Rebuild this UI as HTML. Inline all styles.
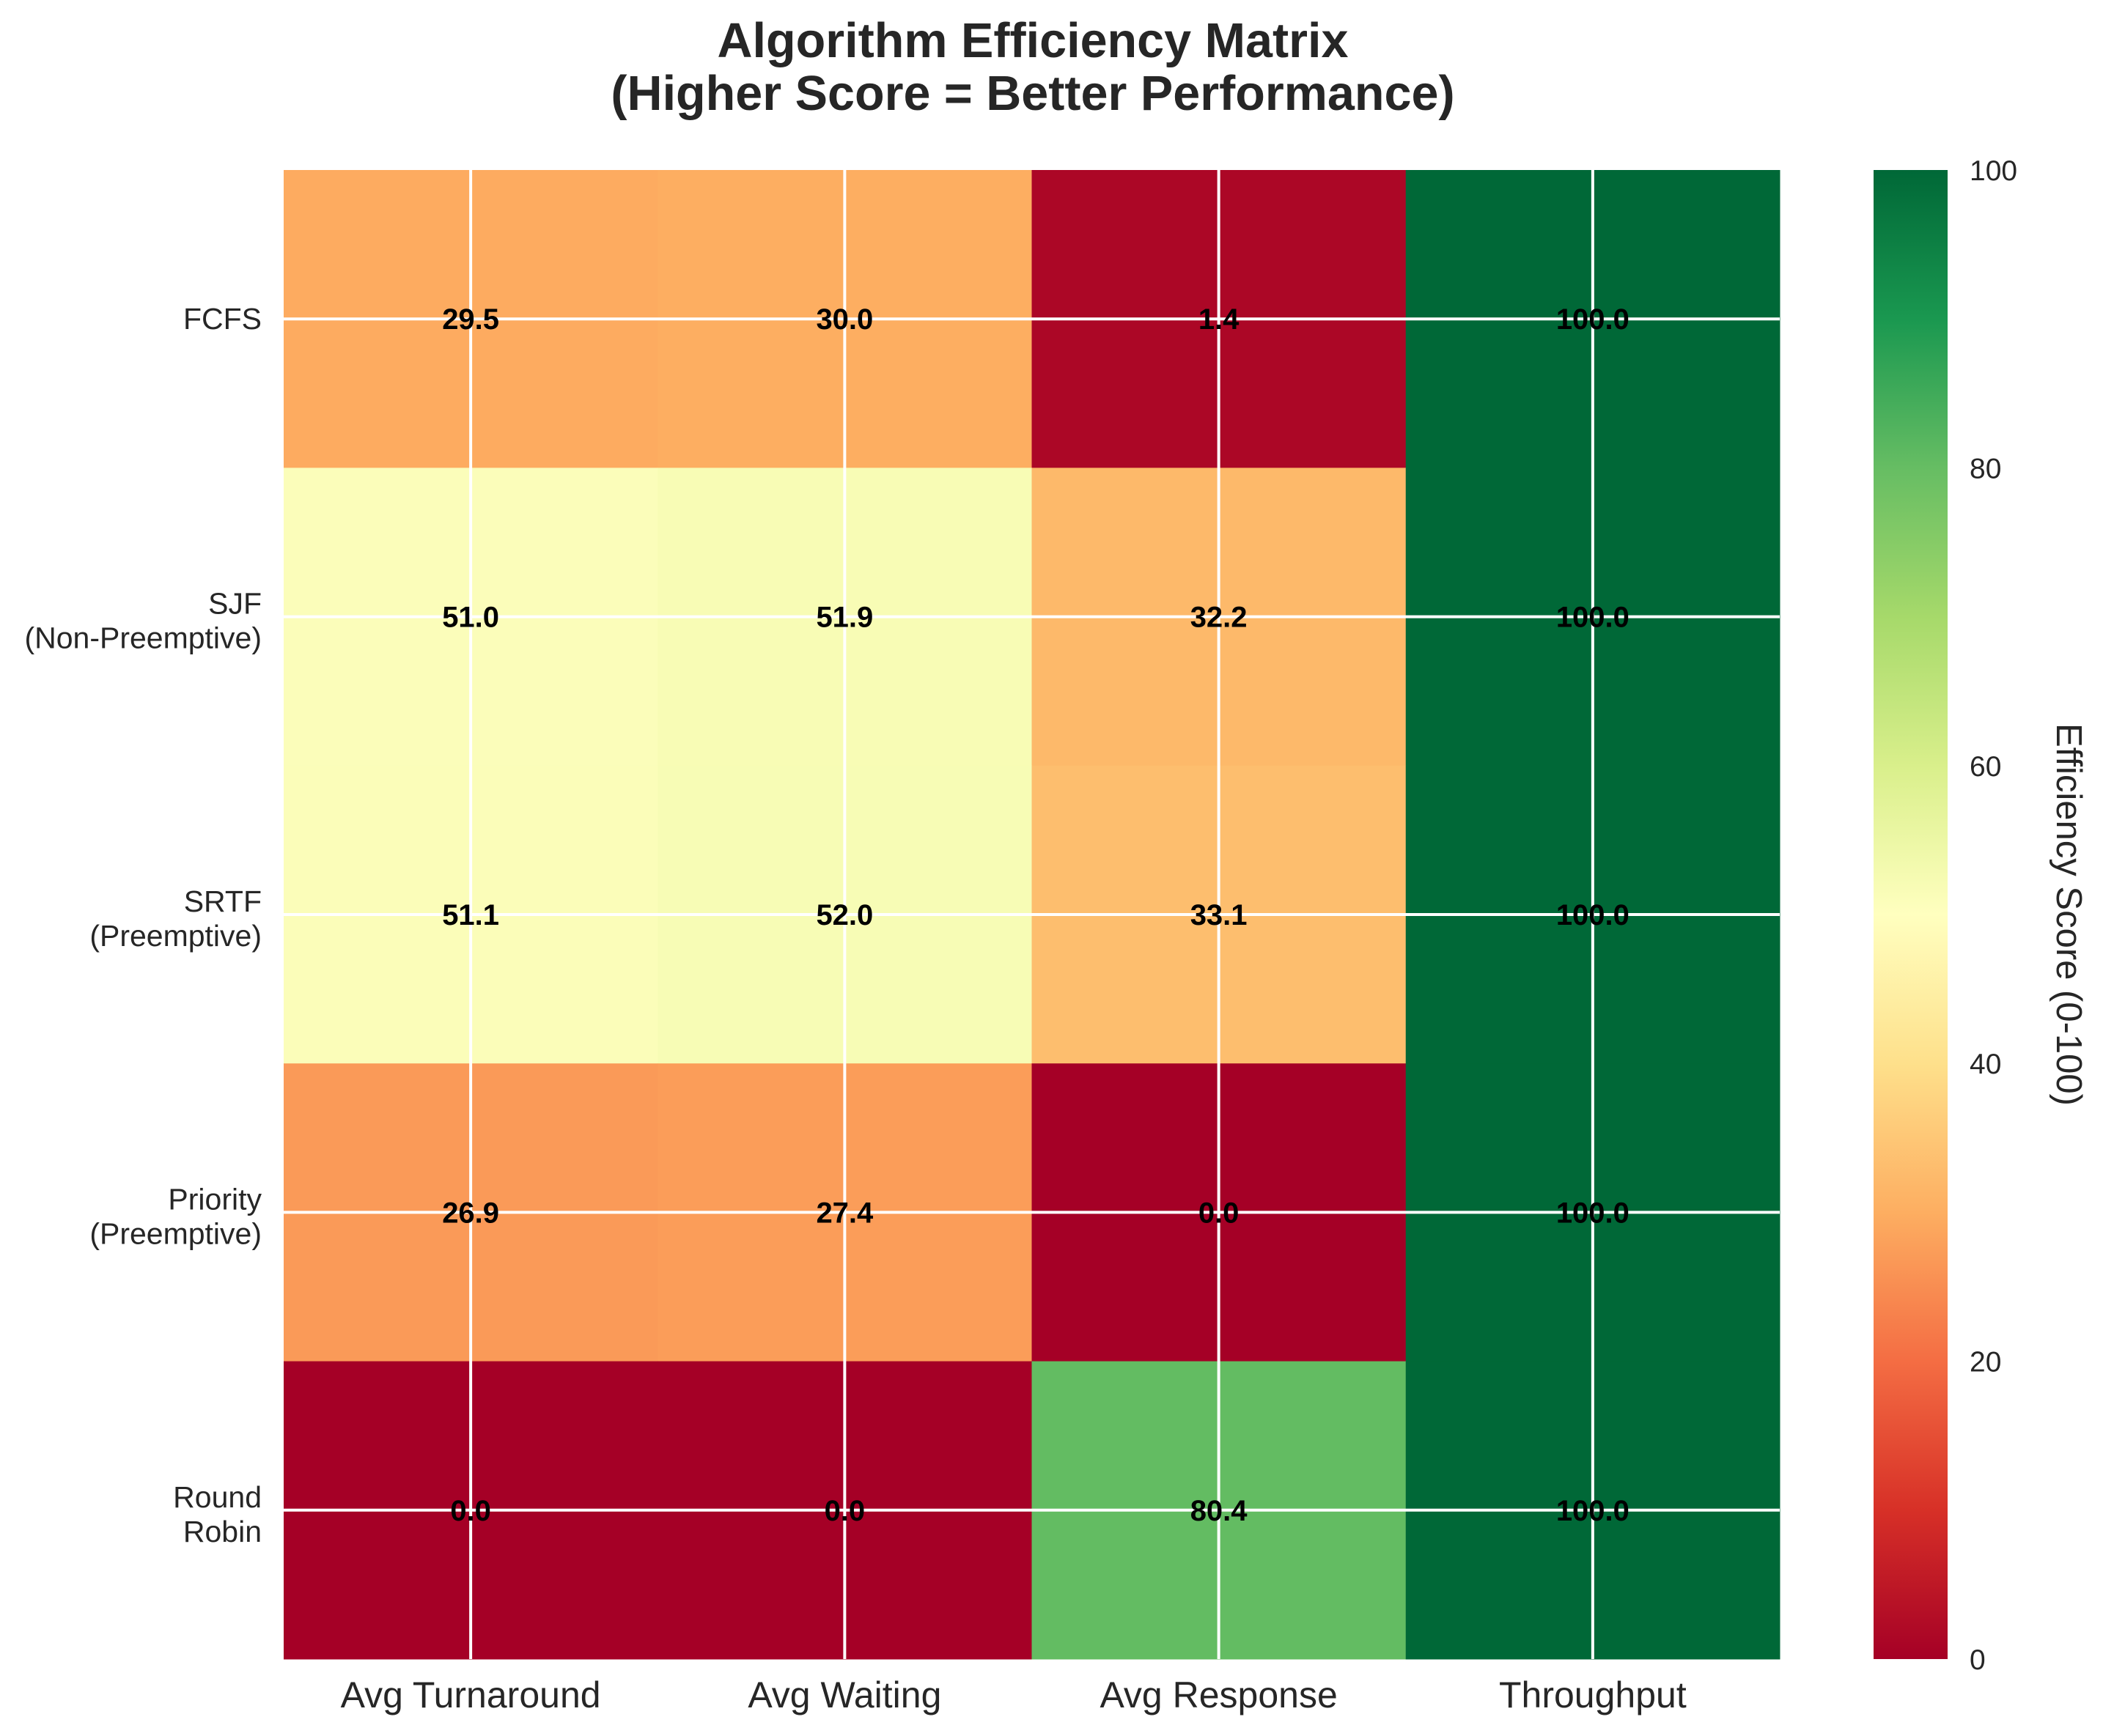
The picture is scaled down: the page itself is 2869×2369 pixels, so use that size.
<!DOCTYPE html>
<html><head><meta charset="utf-8"><style>
html,body{margin:0;padding:0;background:#fff;}
svg{display:block;font-family:"Liberation Sans",sans-serif;}
</style></head><body>
<svg id="chart" width="2869" height="2369" viewBox="0 0 2869 2369" xmlns="http://www.w3.org/2000/svg">
<text x="1409" y="78" text-anchor="middle" font-size="66.5" font-weight="bold" fill="#262626">Algorithm Efficiency Matrix</text>
<text x="1409" y="150" text-anchor="middle" font-size="66.5" font-weight="bold" fill="#262626">(Higher Score = Better Performance)</text>
<g id="cells"></g>
<g id="grid"></g>
<g id="annots"></g>
<g id="ylabels"></g>
<g id="xlabels"></g>
<defs><linearGradient id="cbgrad" x1="0" y1="1" x2="0" y2="0"></linearGradient></defs>
<rect x="2556" y="232" width="101" height="2032" fill="url(#cbgrad)"/>
<g id="cbticks"></g>
<text transform="translate(2806,1248) rotate(90)" text-anchor="middle" font-size="49" fill="#262626">Efficiency Score (0-100)</text>
</svg>
<script>
const categories = ["Avg Turnaround","Avg Waiting","Avg Response","Throughput"];
const algorithms = [["FCFS"],["SJF","(Non-Preemptive)"],["SRTF","(Preemptive)"],["Priority","(Preemptive)"],["Round","Robin"]];
const rowFCFS = [29.5,30.0,1.4,100.0];
const rowSJF = [51.0,51.9,32.2,100.0];
const rowSRTF = [51.1,52.0,33.1,100.0];
const rowPriority = [26.9,27.4,0.0,100.0];
const rowRR = [0.0,0.0,80.4,100.0];
const values = [rowFCFS,rowSJF,rowSRTF,rowPriority,rowRR];
const cbTicks = [0,20,40,60,80,100];
const vmin = 0, vmax = 100;

const NS="http://www.w3.org/2000/svg";
const L=387,R=2428,T=232,B=2264,CB_T=232,CB_B=2264;
const nC=categories.length,nR=values.length;
const cw=(R-L)/nC, rh=(B-T)/nR;
const xPos=i=>L+cw*i, yPos=j=>T+rh*j;
const cbY=v=>CB_B-(v-vmin)/(vmax-vmin)*(CB_B-CB_T);
const cmap=["#a50026","#d73027","#f46d43","#fdae61","#fee08b","#ffffbf","#d9ef8b","#a6d96a","#66bd63","#1a9850","#006837"];
function hex(h){return [1,3,5].map(k=>parseInt(h.substr(k,2),16));}
function color(v){
  let t=Math.max(0,Math.min(1,(v-vmin)/(vmax-vmin)))*(cmap.length-1);
  let i=Math.min(Math.floor(t),cmap.length-2),f=t-i;
  const a=hex(cmap[i]),b=hex(cmap[i+1]);
  return "rgb("+a.map((x,k)=>Math.round(x+(b[k]-x)*f)).join(",")+")";
}
function mk(tag,attrs,parent,txt){const e=document.createElementNS(NS,tag);for(const k in attrs)e.setAttribute(k,attrs[k]);if(txt!==undefined)e.textContent=txt;parent.appendChild(e);return e;}
const cells=document.getElementById("cells"),grid=document.getElementById("grid"),ann=document.getElementById("annots");
values.forEach((row,j)=>{row.forEach((v,i)=>{
  const r=mk("rect",{x:xPos(i),y:yPos(j),width:cw+0.5,height:rh+0.5,fill:color(v)},cells);
  
  
  const t=mk("text",{x:xPos(i)+cw/2,y:yPos(j)+rh/2+14,"text-anchor":"middle","font-size":"40","font-weight":"bold",fill:"#000"},ann,v.toFixed(1));
  
  
});});
for(let i=0;i<nC;i++){const g=mk("line",{x1:xPos(i)+cw/2,x2:xPos(i)+cw/2,y1:T,y2:B,stroke:"#fff","stroke-width":"4"},grid);
  
  }
for(let j=0;j<nR;j++){const g=mk("line",{x1:L,x2:R,y1:yPos(j)+rh/2,y2:yPos(j)+rh/2,stroke:"#fff","stroke-width":"4"},grid);
  
  }
const yl=document.getElementById("ylabels");
algorithms.forEach((lines,j)=>{
  const c=yPos(j)+rh/2;
  const t=mk("text",{"text-anchor":"end","font-size":"41",fill:"#262626"},yl);
  
  
  if(lines.length===1){mk("tspan",{x:357,y:c+14},t,lines[0]);}
  else{mk("tspan",{x:357,y:c-4},t,lines[0]);mk("tspan",{x:357,y:c+43},t,lines[1]);}
});
const xl=document.getElementById("xlabels");
categories.forEach((c,i)=>{const t=mk("text",{x:xPos(i)+cw/2,y:2330,"text-anchor":"middle","font-size":"50",fill:"#262626"},xl,c);
  
  });
const grad=document.getElementById("cbgrad");
cmap.forEach((c,k)=>mk("stop",{offset:(k/(cmap.length-1)*100)+"%","stop-color":c},grad));
const cbt=document.getElementById("cbticks");
cbTicks.forEach(v=>{const t=mk("text",{x:2687,y:cbY(v)+14,"font-size":"39",fill:"#262626"},cbt,String(v));
  
  });
</script>
</body></html>
